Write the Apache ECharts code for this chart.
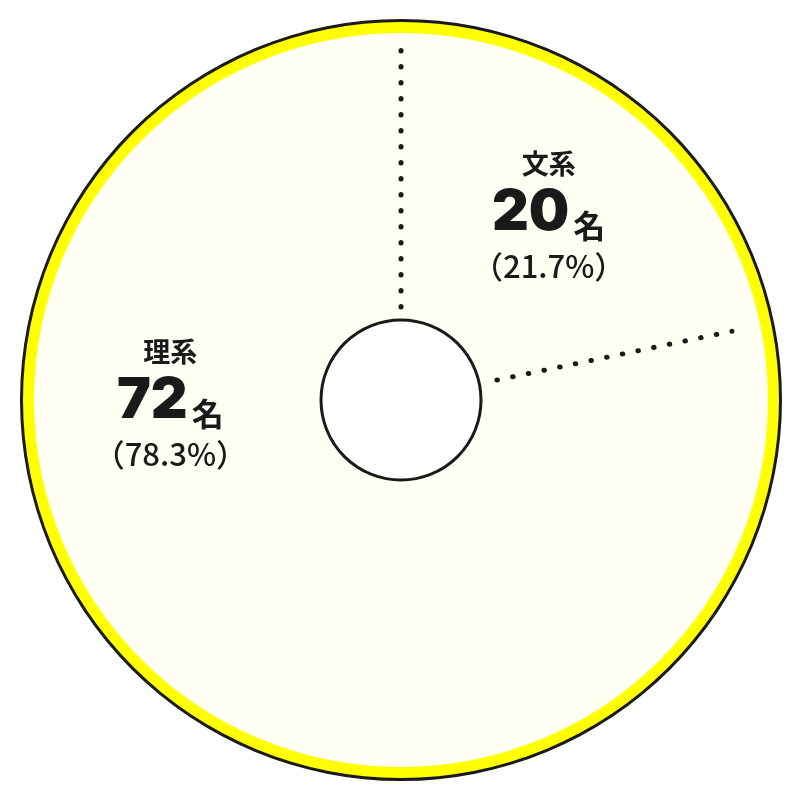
<!DOCTYPE html>
<html>
<head>
<meta charset="utf-8">
<script src="https://cdn.jsdelivr.net/npm/echarts@6/dist/echarts.min.js"></script>
<style>
  html, body { margin: 0; padding: 0; background: #fff; }
  #chart { width: 801px; height: 801px; }
</style>
</head>
<body>
<div id="chart"></div>
<script>
    // 区分と人数
    const categories = ['文系', '理系'];
    const counts = [20, 72];
    const unit = '名';

    window.onload = () => {
        let chart = echarts.init(document.getElementById('chart'));
        let total = counts.reduce((a, b) => a + b, 0);
        let center = [401, 400];
        let ink = '#1a1a1a';

        // 区切り線の角度 (累積値)
        let bounds = [];
        let acc = 0;
        counts.forEach(v => { bounds.push(acc); acc += v; });
        // 区切り線の内側・外側の半径
        let sepRadii = [[93, 349.5], [98, 338]];

        let pieData = categories.map((name, i) => ({
            name: name,
            value: counts[i],
            // 理系のラベルは左側に寄せる
            label: i === 1 ? { offset: [-83, -175] } : {}
        }));

        let sepSeries = bounds.map((b, i) => ({
            type: 'line',
            coordinateSystem: 'polar',
            symbol: 'none',
            silent: true,
            z: 5,
            lineStyle: {
                color: ink,
                width: 5,
                type: [0.5, 15.5],
                cap: 'round'
            },
            data: [[sepRadii[i][0], b], [sepRadii[i][1], b]]
        }));

        let option = {
            backgroundColor: '#ffffff',
            animation: false,
            polar: { center: center, radius: 380 },
            angleAxis: {
                type: 'value', min: 0, max: total, startAngle: 90, clockwise: true,
                show: false
            },
            radiusAxis: { type: 'value', min: 0, max: 380, show: false },
            series: [
                {
                    name: '内訳',
                    type: 'pie',
                    center: center,
                    radius: [80, 382],
                    startAngle: 90,
                    clockwise: true,
                    silent: true,
                    z: 1,
                    itemStyle: { color: '#fffff4', borderWidth: 0 },
                    labelLine: { show: false },
                    label: {
                        show: true,
                        position: 'inside',
                        color: ink,
                        fontFamily: '"Noto Sans CJK JP", sans-serif',
                        formatter: p => {
                            let pct = (p.value / total * 100).toFixed(1);
                            return '{a|' + p.name + '}\n{b|' + p.value + '}{c|' + unit + '}\n{d|（' + pct + '%）}';
                        },
                        rich: {
                            a: { fontSize: 27, fontWeight: 700, lineHeight: 36, color: ink,
                                 fontFamily: '"Noto Sans CJK JP", sans-serif' },
                            b: { fontSize: 57, fontWeight: 900, lineHeight: 60, color: ink,
                                 fontFamily: 'Inter, "Noto Sans CJK JP", sans-serif',
                                 verticalAlign: 'bottom', padding: [0, 4, 0, 0] },
                            c: { fontSize: 32, fontWeight: 700, lineHeight: 60, color: ink,
                                 fontFamily: '"Noto Sans CJK JP", sans-serif',
                                 verticalAlign: 'bottom', padding: [0, 0, 0, 0] },
                            d: { fontSize: 31, fontWeight: 500, lineHeight: 50, color: ink,
                                 fontFamily: '"Noto Sans CJK JP", sans-serif' }
                        }
                    },
                    emphasis: { disabled: true },
                    data: pieData
                },
                // 外枠 (黒)
                {
                    type: 'pie', center: center, radius: [377, 381], silent: true, z: 2,
                    label: { show: false }, labelLine: { show: false },
                    itemStyle: { color: ink, borderWidth: 0 },
                    emphasis: { disabled: true },
                    data: [{ value: total }]
                },
                // 外枠 (黄)
                {
                    type: 'pie', center: center, radius: [367, 378], silent: true, z: 3,
                    label: { show: false }, labelLine: { show: false },
                    itemStyle: { color: '#ffff00', borderWidth: 0 },
                    emphasis: { disabled: true },
                    data: [{ value: total }]
                },
                // 中央の穴
                {
                    type: 'pie', center: center, radius: [0, 80], silent: true, z: 4,
                    label: { show: false }, labelLine: { show: false },
                    itemStyle: { color: '#ffffff', borderColor: ink, borderWidth: 3 },
                    emphasis: { disabled: true },
                    data: [{ value: total }]
                }
            ].concat(sepSeries)
        };

        chart.setOption(option);
    };
</script>
</body>
</html>
